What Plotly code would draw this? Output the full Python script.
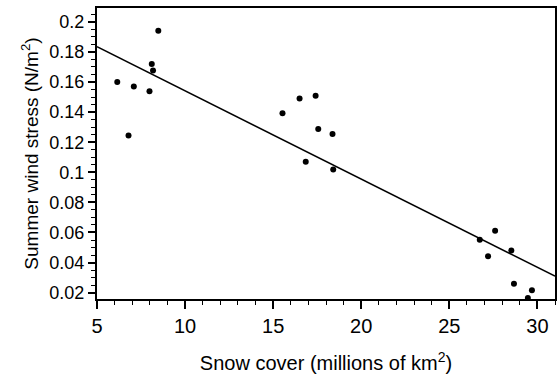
import plotly.graph_objects as go

# Snow cover (millions of km^2) vs summer wind stress (N/m^2)
snow_cover = [6.15, 6.79, 7.09, 7.98, 8.11, 8.18, 8.48,
              15.53, 16.5, 16.85, 17.41, 17.56, 18.37, 18.41,
              26.73, 27.2, 27.6, 28.52, 28.67, 29.46, 29.69]
wind_stress = [0.160, 0.1244, 0.157, 0.1539, 0.172, 0.1677, 0.194,
               0.1392, 0.149, 0.107, 0.1508, 0.1288, 0.1255, 0.1018,
               0.0552, 0.0442, 0.0611, 0.048, 0.026, 0.0165, 0.0216]

# regression line end points
fit_x = [5.0, 31.0]
fit_y = [0.1835, 0.031]

x_range = [5, 31.0]
y_range = [0.0158, 0.2092]
x_tick0, x_dtick, x_minor = 5, 5, 1
y_tick0, y_dtick, y_minor = 0.02, 0.02, 0.005

FONT = "Liberation Sans, Arial, Helvetica, sans-serif"

fig = go.Figure()
fig.add_trace(go.Scatter(x=fit_x, y=fit_y, xaxis="x2", yaxis="y2", mode="lines",
                         line=dict(width=0), opacity=0, showlegend=False, hoverinfo="skip"))
fig.add_trace(go.Scatter(x=fit_x, y=fit_y, mode="lines",
                         line=dict(color="black", width=1.5),
                         showlegend=False, hoverinfo="skip"))
fig.add_trace(go.Scatter(x=snow_cover, y=wind_stress, mode="markers",
                         marker=dict(color="black", size=6),
                         cliponaxis=False, showlegend=False))

fig.update_layout(
    template="simple_white",
    width=560, height=388,
    margin=dict(l=97, r=3, t=8, b=89),
    paper_bgcolor="white", plot_bgcolor="white",
    font=dict(family=FONT, color="black"),
    xaxis=dict(
        range=x_range, tickmode="linear", tick0=x_tick0, dtick=x_dtick,
        ticks="outside", ticklen=8, tickwidth=1.5, tickcolor="black",
        showline=True, linecolor="black", linewidth=2, mirror=True,
        showgrid=False, zeroline=False,
        tickfont=dict(size=20, family=FONT),
        minor=dict(dtick=x_minor, ticks="outside", ticklen=4, tickcolor="black", tickwidth=1),
        title=dict(text="Snow cover (millions of km<sup>2</sup>)", font=dict(size=20, family=FONT), standoff=20),
    ),
    yaxis=dict(
        range=y_range, tickmode="linear", tick0=y_tick0, dtick=y_dtick,
        ticks="outside", ticklen=7, tickwidth=1.5, tickcolor="black",
        showline=True, linecolor="black", linewidth=2, mirror=True,
        showgrid=False, zeroline=False,
        tickfont=dict(size=18, family=FONT),
        minor=dict(dtick=y_minor, ticks="outside", ticklen=4, tickcolor="black", tickwidth=1),
        title=dict(text="Summer wind stress (N/m<sup>2</sup>)", font=dict(size=19, family=FONT), standoff=6),
    ),
    xaxis2=dict(
        overlaying="x", anchor="y", side="bottom", range=x_range,
        tickmode="linear", tick0=x_tick0, dtick=x_minor,
        ticks="outside", ticklen=4, tickwidth=1, tickcolor="black",
        showticklabels=False, showgrid=False, zeroline=False, showline=False,
    ),
    yaxis2=dict(
        overlaying="y", anchor="x", side="left", range=y_range,
        tickmode="linear", tick0=y_tick0, dtick=y_minor,
        ticks="outside", ticklen=4, tickwidth=1, tickcolor="black",
        showticklabels=False, showgrid=False, zeroline=False, showline=False,
    ),
)

fig.write_html("out.html")
